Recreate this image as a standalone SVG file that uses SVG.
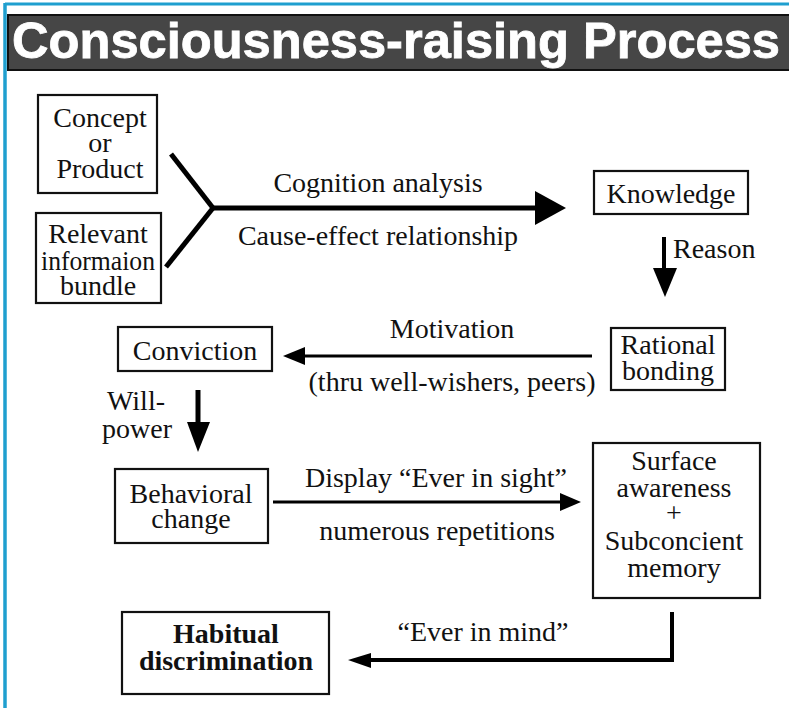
<svg xmlns="http://www.w3.org/2000/svg" width="789" height="708" viewBox="0 0 789 708">
  <defs>
    <style>
      .box { fill: #fff; stroke: #111; stroke-width: 2.2; }
      .t { font-family: 'Liberation Serif', serif; font-size: 28px; fill: #111; text-anchor: middle; }
      .b { font-weight: bold; }
      .lbl { font-family: 'Liberation Serif', serif; font-size: 28px; fill: #111; }
      .ln { stroke: #000; fill: none; stroke-linecap: butt; }
      .head { fill: #000; stroke: none; }
    </style>
  </defs>

  <!-- page -->
  <rect x="0" y="0" width="789" height="708" fill="#fff"/>
  <line x1="5" y1="4" x2="789" y2="4" stroke="#1f9fcf" stroke-width="3"/>
  <line x1="5" y1="3" x2="5" y2="708" stroke="#1f9fcf" stroke-width="3.5"/>

  <!-- title bar -->
  <g id="title">
    <rect x="8" y="15" width="784" height="55" fill="#464646" stroke="#111" stroke-width="2"/>
    <text x="12" y="58" font-family="'Liberation Sans', sans-serif" font-weight="bold" font-size="50" fill="#fff" stroke="#fff" stroke-width="0.8" textLength="768" lengthAdjust="spacingAndGlyphs">Consciousness-raising Process</text>
  </g>

  <!-- connectors -->
  <g id="connectors">
    <!-- merge of the two inputs into cognition analysis -->
    <line class="ln" x1="171" y1="154" x2="213" y2="208" stroke-width="5"/>
    <line class="ln" x1="166" y1="267" x2="213" y2="208" stroke-width="5"/>
    <line class="ln" x1="211" y1="208" x2="537" y2="208" stroke-width="5"/>
    <polygon class="head" points="535,191 566,208 535,225"/>
    <text class="t" x="378" y="192">Cognition analysis</text>
    <text class="t" x="378" y="245">Cause-effect relationship</text>

    <!-- reason -->
    <line class="ln" x1="664" y1="237" x2="664" y2="269" stroke-width="4"/>
    <polygon class="head" points="653,268 677,268 665,297"/>
    <text class="lbl" x="673" y="258">Reason</text>

    <!-- motivation -->
    <line class="ln" x1="592" y1="356" x2="302" y2="356" stroke-width="3"/>
    <polygon class="head" points="305,347 283,356 305,365"/>
    <text class="t" x="452" y="338">Motivation</text>
    <text class="t" x="452" y="391">(thru well-wishers, peers)</text>

    <!-- will-power -->
    <line class="ln" x1="198" y1="390" x2="198" y2="423" stroke-width="5"/>
    <polygon class="head" points="187,422 210,422 198,452"/>
    <text class="t" x="136" y="410">Will-</text>
    <text class="t" x="137" y="438">power</text>

    <!-- display -->
    <line class="ln" x1="273" y1="502" x2="562" y2="502" stroke-width="3"/>
    <polygon class="head" points="560,493 581,502 560,511"/>
    <text class="t" x="436" y="487">Display “Ever in sight”</text>
    <text class="t" x="437" y="540">numerous repetitions</text>

    <!-- ever in mind -->
    <polyline class="ln" points="672,612 672,660 368,660" stroke-width="4"/>
    <polygon class="head" points="371,653 348,660 371,668"/>
    <text class="t" x="483" y="641">“Ever in mind”</text>
  </g>

  <!-- nodes -->
  <g id="concept">
    <rect class="box" x="38" y="95" width="119" height="98"/>
    <text class="t" x="100" y="127">Concept</text>
    <text class="t" x="100" y="152">or</text>
    <text class="t" x="100" y="178">Product</text>
  </g>

  <g id="information">
    <rect class="box" x="36" y="213" width="125" height="90"/>
    <text class="t" x="98" y="243">Relevant</text>
    <text class="t" x="98" y="270" textLength="114" lengthAdjust="spacingAndGlyphs">informaion</text>
    <text class="t" x="98" y="295">bundle</text>
  </g>

  <g id="knowledge">
    <rect class="box" x="594" y="171" width="154" height="43"/>
    <text class="t" x="671" y="203">Knowledge</text>
  </g>

  <g id="rational-bonding">
    <rect class="box" x="611" y="328" width="114" height="62"/>
    <text class="t" x="668" y="354">Rational</text>
    <text class="t" x="668" y="380">bonding</text>
  </g>

  <g id="conviction">
    <rect class="box" x="118" y="327" width="154" height="44"/>
    <text class="t" x="195" y="360">Conviction</text>
  </g>

  <g id="behavioral-change">
    <rect class="box" x="115" y="469" width="153" height="74"/>
    <text class="t" x="191" y="503">Behavioral</text>
    <text class="t" x="191" y="528">change</text>
  </g>

  <g id="surface-awareness">
    <rect class="box" x="593" y="443" width="167" height="155"/>
    <text class="t" x="674" y="470">Surface</text>
    <text class="t" x="674" y="497">awareness</text>
    <text class="t" x="674" y="522">+</text>
    <text class="t" x="674" y="550">Subconcient</text>
    <text class="t" x="674" y="577">memory</text>
  </g>

  <g id="habitual-discrimination">
    <rect class="box" x="122" y="612" width="207" height="82"/>
    <text class="t b" x="226" y="643">Habitual</text>
    <text class="t b" x="226" y="670">discrimination</text>
  </g>
</svg>
